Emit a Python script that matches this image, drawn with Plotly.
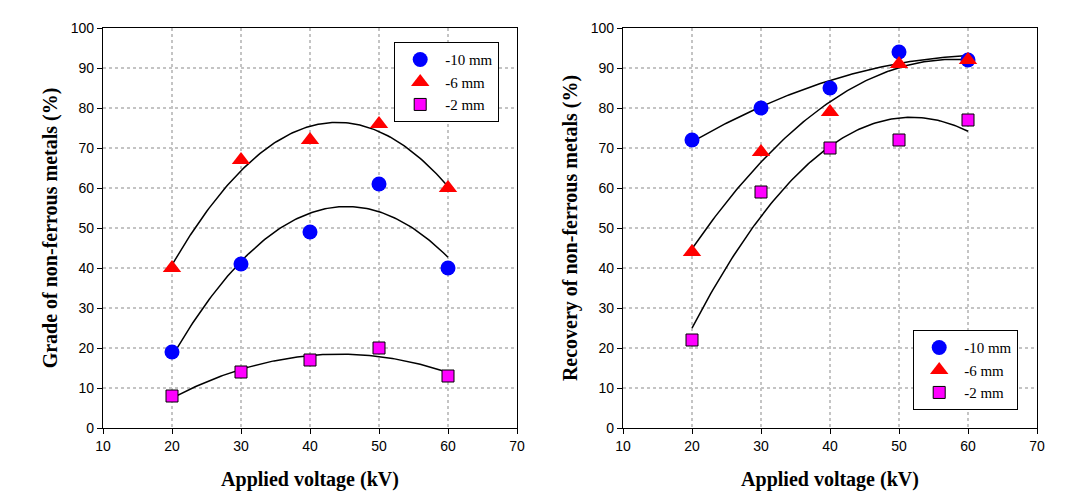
import numpy as np
import plotly.graph_objects as go

voltage = [20, 30, 40, 50, 60]
series_names = ["-10 mm", "-6 mm", "-2 mm"]
grade_10 = [19, 41, 49, 61, 40]
grade_6 = [40, 67, 72, 76, 60]
grade_2 = [8, 14, 17, 20, 13]
recov_10 = [72, 80, 85, 94, 92]
recov_6 = [44, 69, 79, 91, 92]
recov_2 = [22, 59, 70, 72, 77]
x_ticks = [10, 20, 30, 40, 50, 60, 70]
y_ticks = [0, 10, 20, 30, 40, 50, 60, 70, 80, 90, 100]

styles = [
    dict(symbol="circle", size=15, color="#0000ff", line=dict(width=0)),
    dict(symbol="triangle-up", size=16, color="#ff0000", line=dict(width=0)),
    dict(symbol="square", size=12, color="#ff00ff", line=dict(width=1, color="black")),
]

fig = go.Figure()
xf = np.linspace(20, 60, 120)

def add_panel(data, xa, ya, legend):
    for name, vals, st in zip(series_names, data, styles):
        c = np.polyfit(voltage, vals, 2)
        fig.add_trace(go.Scatter(x=xf, y=np.polyval(c, xf), mode="lines",
                                 line=dict(color="black", width=1.5),
                                 xaxis=xa, yaxis=ya, showlegend=False, hoverinfo="skip"))
    for name, vals, st in zip(series_names, data, styles):
        fig.add_trace(go.Scatter(x=voltage, y=vals, mode="markers", name=name,
                                 marker=st, xaxis=xa, yaxis=ya, legend=legend))

add_panel([grade_10, grade_6, grade_2], "x", "y", "legend")
add_panel([recov_10, recov_6, recov_2], "x2", "y2", "legend2")

# page body has an 8px margin; work in reference pixels minus 8
OFF = 8
W, H = 1068 - OFF, 499 - OFF
def px(v):
    return (v - OFF) / W
def py(v):
    return 1 - (v - OFF) / H

ytop, ybot = 28, 428
title_font = dict(family="Liberation Serif, Times New Roman", size=20, color="black", weight="bold")
axis_common = dict(showline=True, linecolor="black", linewidth=1.2, mirror=True,
                   ticks="outside", ticklen=5, tickcolor="black",
                   showgrid=True, gridcolor="#c4c4c4", griddash="dot", gridwidth=2,
                   zeroline=False, automargin=False,
                   tickfont=dict(family="Liberation Sans, Arial", size=14, color="black"))
xt = dict(text="Applied voltage (kV)", font=title_font, standoff=19)

fig.update_layout(
    width=W, height=H, margin=dict(l=0, r=0, t=0, b=0),
    paper_bgcolor="white", plot_bgcolor="white",
    xaxis=dict(domain=[px(103), px(517)], range=[10, 70], tickvals=x_ticks, anchor="y", title=xt, **axis_common),
    yaxis=dict(domain=[py(ybot), py(ytop)], range=[0, 100], tickvals=y_ticks, anchor="x",
               title=dict(text="Grade of non-ferrous metals (%)", font=title_font, standoff=7), **axis_common),
    xaxis2=dict(domain=[px(623), px(1037)], range=[10, 70], tickvals=x_ticks, anchor="y2", title=xt, **axis_common),
    yaxis2=dict(domain=[py(ybot), py(ytop)], range=[0, 100], tickvals=y_ticks, anchor="x2",
                title=dict(text="Recovery of non-ferrous metals (%)", font=title_font, standoff=7), **axis_common),
    legend=dict(x=px(394), y=py(42), xanchor="left", yanchor="top", bgcolor="white",
                bordercolor="black", borderwidth=1.2, itemwidth=40,
                font=dict(family="Liberation Serif, Times New Roman", size=15, color="black")),
    legend2=dict(x=px(913), y=py(330), xanchor="left", yanchor="top", bgcolor="white",
                 bordercolor="black", borderwidth=1.2, itemwidth=40,
                 font=dict(family="Liberation Serif, Times New Roman", size=15, color="black")),
)

fig.write_html("out.html")
